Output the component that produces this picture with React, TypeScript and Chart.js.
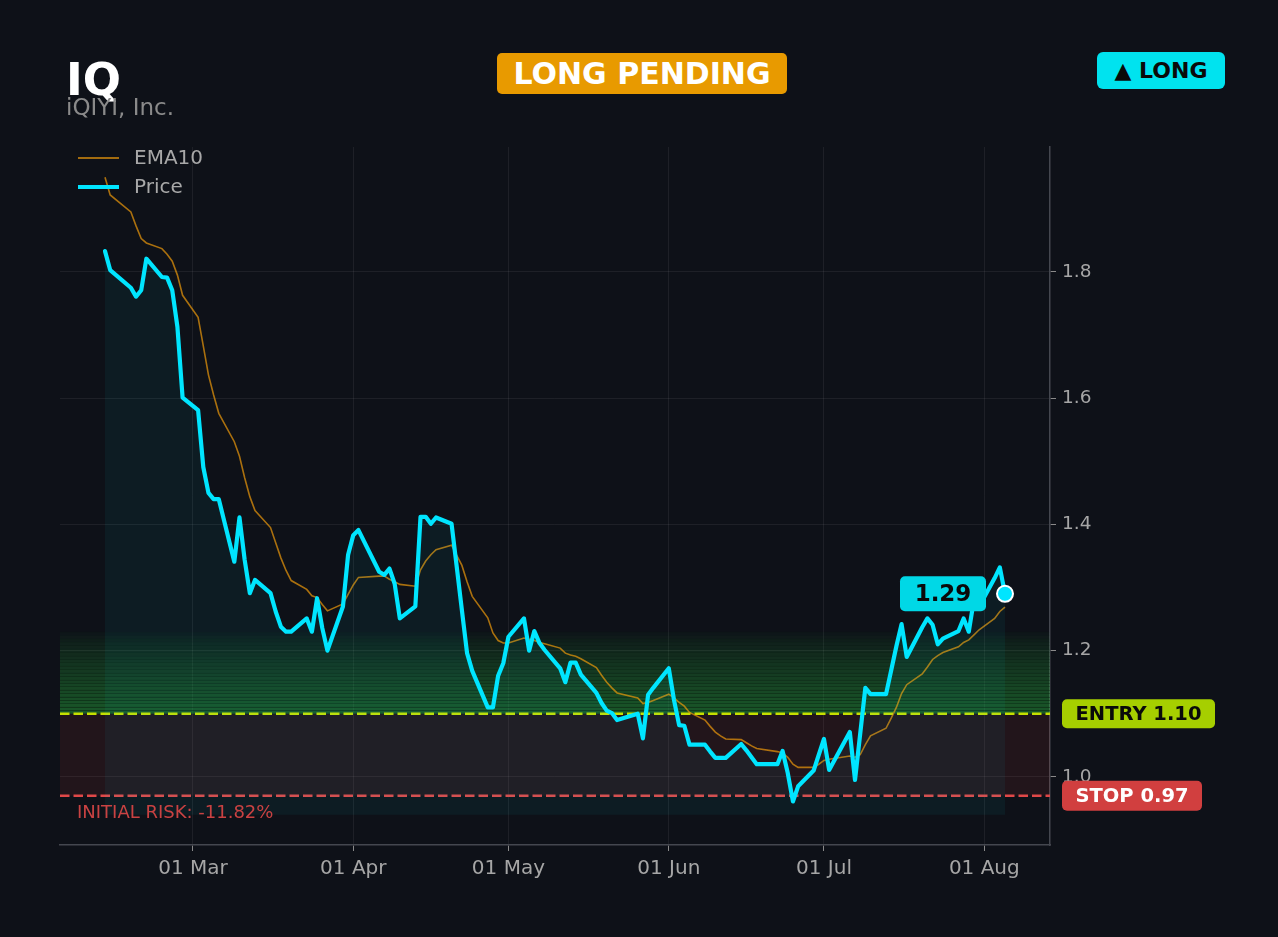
import React, { useEffect, useRef } from "react";
import { Chart, registerables } from "chart.js";

Chart.register(...registerables);

const TICKER = "IQ";
const COMPANY = "iQIYI, Inc.";
const STATUS = "LONG PENDING";
const DIRECTION = "▲ LONG";

const DATES = [
  "2026-02-12", "2026-02-13", "2026-02-17", "2026-02-18", "2026-02-19", "2026-02-20", "2026-02-23", "2026-02-24", "2026-02-25", "2026-02-26", "2026-02-27",
  "2026-03-02", "2026-03-03", "2026-03-04", "2026-03-05", "2026-03-06", "2026-03-09", "2026-03-10", "2026-03-11", "2026-03-12", "2026-03-13",
  "2026-03-16", "2026-03-17", "2026-03-18", "2026-03-19", "2026-03-20", "2026-03-23", "2026-03-24", "2026-03-25", "2026-03-26", "2026-03-27", "2026-03-30", "2026-03-31",
  "2026-04-01", "2026-04-02", "2026-04-06", "2026-04-07", "2026-04-08", "2026-04-09", "2026-04-10", "2026-04-13", "2026-04-14", "2026-04-15", "2026-04-16", "2026-04-17",
  "2026-04-20", "2026-04-21", "2026-04-22", "2026-04-23", "2026-04-24", "2026-04-27", "2026-04-28", "2026-04-29", "2026-04-30",
  "2026-05-01", "2026-05-04", "2026-05-05", "2026-05-06", "2026-05-07", "2026-05-08", "2026-05-11", "2026-05-12", "2026-05-13", "2026-05-14", "2026-05-15",
  "2026-05-18", "2026-05-19", "2026-05-20", "2026-05-21", "2026-05-22", "2026-05-26", "2026-05-27", "2026-05-28", "2026-05-29",
  "2026-06-01", "2026-06-02", "2026-06-03", "2026-06-04", "2026-06-05", "2026-06-08", "2026-06-09", "2026-06-10", "2026-06-11", "2026-06-12",
  "2026-06-15", "2026-06-16", "2026-06-17", "2026-06-18", "2026-06-22", "2026-06-23", "2026-06-24", "2026-06-25", "2026-06-26", "2026-06-29", "2026-06-30",
  "2026-07-01", "2026-07-02", "2026-07-06", "2026-07-07", "2026-07-08", "2026-07-09", "2026-07-10", "2026-07-13", "2026-07-14", "2026-07-15", "2026-07-16", "2026-07-17",
  "2026-07-20", "2026-07-21", "2026-07-22", "2026-07-23", "2026-07-24", "2026-07-27", "2026-07-28", "2026-07-29", "2026-07-30", "2026-07-31",
  "2026-08-03", "2026-08-04", "2026-08-05",
];

const PRICE = [
  1.833, 1.803, 1.775, 1.761, 1.771, 1.821, 1.792, 1.791, 1.771, 1.713, 1.601,
  1.581, 1.491, 1.450, 1.440, 1.440, 1.341, 1.411, 1.344, 1.291, 1.312,
  1.291, 1.262, 1.238, 1.230, 1.230, 1.251, 1.230, 1.283, 1.236, 1.200, 1.270, 1.352,
  1.383, 1.391, 1.325, 1.320, 1.330, 1.306, 1.251, 1.270, 1.412, 1.412, 1.401, 1.411,
  1.401, 1.333, 1.264, 1.196, 1.168, 1.110, 1.110, 1.160, 1.180,
  1.222, 1.251, 1.200, 1.231, 1.212, 1.201, 1.172, 1.150, 1.181, 1.181, 1.162,
  1.133, 1.117, 1.105, 1.101, 1.090, 1.100, 1.061, 1.130, 1.141,
  1.172, 1.122, 1.082, 1.081, 1.051, 1.051, 1.040, 1.030, 1.030, 1.030,
  1.052, 1.042, 1.031, 1.020, 1.020, 1.041, 1.006, 0.961, 0.985, 1.010, 1.035,
  1.060, 1.011, 1.071, 0.995, 1.068, 1.141, 1.131, 1.131, 1.169, 1.207, 1.242, 1.190,
  1.237, 1.251, 1.241, 1.210, 1.219, 1.231, 1.251, 1.230, 1.281, 1.270,
  1.315, 1.332, 1.290,
];

const EMA10 = [
  1.950, 1.922, 1.895, 1.873, 1.853, 1.846, 1.837, 1.828, 1.817, 1.795, 1.763,
  1.728, 1.683, 1.637, 1.605, 1.576, 1.531, 1.508, 1.474, 1.444, 1.422,
  1.395, 1.371, 1.347, 1.327, 1.311, 1.297, 1.287, 1.284, 1.273, 1.263, 1.274, 1.289,
  1.304, 1.316, 1.318, 1.318, 1.313, 1.309, 1.305, 1.302, 1.328, 1.342, 1.352, 1.360,
  1.367, 1.351, 1.335, 1.309, 1.286, 1.252, 1.228, 1.216, 1.212,
  1.212, 1.220, 1.218, 1.216, 1.213, 1.211, 1.204, 1.196, 1.193, 1.191, 1.187,
  1.173, 1.161, 1.150, 1.141, 1.133, 1.125, 1.116, 1.118, 1.121,
  1.131, 1.125, 1.118, 1.112, 1.102, 1.090, 1.080, 1.071, 1.065, 1.060,
  1.059, 1.054, 1.049, 1.045, 1.040, 1.038, 1.031, 1.020, 1.015, 1.015, 1.020,
  1.026, 1.028, 1.033, 1.031, 1.035, 1.051, 1.065, 1.077, 1.093, 1.110, 1.132, 1.146,
  1.163, 1.174, 1.186, 1.192, 1.197, 1.206, 1.213, 1.217, 1.225, 1.233,
  1.251, 1.262, 1.269,
];

const MONTH_TICK_DATES = ["2026-03-01", "2026-04-01", "2026-05-01", "2026-06-01", "2026-07-01", "2026-08-01"];
const MONTH_TICK_LABELS = ["01 Mar", "01 Apr", "01 May", "01 Jun", "01 Jul", "01 Aug"];
const Y_TICKS = [1.0, 1.2, 1.4, 1.6, 1.8];

const ENTRY = 1.1;
const STOP = 0.97;
const GREEN_TOP = 1.23;
const FILL_BASE = 0.94;
const Y_MIN = 0.892;
const Y_MAX = 1.998;
const RISK_TEXT = "INITIAL RISK: -11.82%";
const ENTRY_TEXT = "ENTRY 1.10";
const STOP_TEXT = "STOP 0.97";

const BG = "#0e1118";
const CYAN = "#00e5ff";
const FONT = "'DejaVu Sans', sans-serif";

const dayNum = (s: string) => {
  const [y, m, d] = s.split("-").map(Number);
  return Date.UTC(y, m - 1, d) / 86400000;
};

export default function App() {
  const ref = useRef<HTMLCanvasElement | null>(null);

  useEffect(() => {
    document.body.style.margin = "0";
    const canvas = ref.current;
    if (!canvas) return;
    const xs = DATES.map(dayNum);
    const monthXs = MONTH_TICK_DATES.map(dayNum);
    const span = xs[xs.length - 1] - xs[0];
    const xMin = xs[0] - span * 0.05;
    const xMax = xs[xs.length - 1] + span * 0.05;
    const last = xs.length - 1;

    const zones = {
      id: "zones",
      beforeDatasetsDraw(chart: any) {
        const { ctx, chartArea: a } = chart;
        const y = chart.scales.y;
        const w = a.right - a.left;
        ctx.save();
        ctx.beginPath();
        ctx.rect(a.left, a.top, w, a.bottom - a.top);
        ctx.clip();
        const yE = y.getPixelForValue(ENTRY);
        const yS = y.getPixelForValue(STOP);
        ctx.fillStyle = "rgba(239,68,68,0.09)";
        ctx.fillRect(a.left, yE, w, yS - yE);
        const n = 24;
        for (let i = 0; i < n; i++) {
          const v0 = ENTRY + ((GREEN_TOP - ENTRY) * i) / n;
          const v1 = ENTRY + ((GREEN_TOP - ENTRY) * (i + 1)) / n;
          const p0 = y.getPixelForValue(v0);
          const p1 = y.getPixelForValue(v1);
          const t = 1 - i / n;
          ctx.fillStyle = `rgba(40,170,60,${0.46 * Math.pow(t, 0.8)})`;
          ctx.fillRect(a.left, p1, w, p0 - p1);
          ctx.fillStyle = `rgba(4,10,6,${0.4 * t})`;
          ctx.fillRect(a.left, Math.round(p1), w, 1);
        }
        ctx.lineWidth = 2.5;
        ctx.setLineDash([9.5, 4]);
        ctx.strokeStyle = "#c6e000";
        ctx.beginPath();
        ctx.moveTo(a.left, yE);
        ctx.lineTo(a.right, yE);
        ctx.stroke();
        ctx.strokeStyle = "#e04848";
        ctx.beginPath();
        ctx.moveTo(a.left, yS);
        ctx.lineTo(a.right, yS);
        ctx.stroke();
        ctx.restore();
      },
    };

    const overlay = {
      id: "overlay",
      afterDraw(chart: any) {
        const { ctx, chartArea: a } = chart;
        const y = chart.scales.y;
        const x = chart.scales.x;
        const yE = y.getPixelForValue(ENTRY);
        const yS = y.getPixelForValue(STOP);
        ctx.save();
        // legend
        ctx.lineCap = "butt";
        ctx.strokeStyle = "rgba(245,158,11,0.65)";
        ctx.lineWidth = 2;
        ctx.beginPath();
        ctx.moveTo(a.left + 18, a.top + 11);
        ctx.lineTo(a.left + 59, a.top + 11);
        ctx.stroke();
        ctx.strokeStyle = CYAN;
        ctx.lineWidth = 4;
        ctx.beginPath();
        ctx.moveTo(a.left + 18, a.top + 40);
        ctx.lineTo(a.left + 59, a.top + 40);
        ctx.stroke();
        ctx.fillStyle = "#a8a8a8";
        ctx.font = `20px ${FONT}`;
        ctx.textBaseline = "middle";
        ctx.textAlign = "left";
        ctx.fillText("EMA10", a.left + 74, a.top + 12);
        ctx.fillText("Price", a.left + 74, a.top + 41);

        // risk text
        ctx.fillStyle = "#c94242";
        ctx.font = `18px ${FONT}`;
        ctx.fillText(RISK_TEXT, a.left + 17, yS + 18);

        // right labels
        const box = (bx: number, cy: number, bw: number, bh: number, fill: string, text: string, color: string, size: number) => {
          ctx.fillStyle = fill;
          ctx.beginPath();
          ctx.roundRect(bx, cy - bh / 2, bw, bh, 5);
          ctx.fill();
          ctx.fillStyle = color;
          ctx.font = `bold ${size}px ${FONT}`;
          ctx.textAlign = "center";
          ctx.textBaseline = "middle";
          ctx.fillText(text, bx + bw / 2, cy + 1);
        };
        box(a.right + 12, yE, 153, 29, "#a6cf00", ENTRY_TEXT, "#0a0a0a", 19.5);
        box(a.right + 12, yS, 140, 30, "#d13f3f", STOP_TEXT, "#ffffff", 19.5);

        // last price label
        const lx = x.getPixelForValue(xs[last]);
        const ly = y.getPixelForValue(PRICE[last]);
        box(lx - 105, ly, 86, 35, "#00d8e6", PRICE[last].toFixed(2), "#0a0a0a", 23);
        ctx.restore();
      },
    };

    const chart = new Chart(canvas, {
      type: "line",
      data: {
        datasets: [
          {
            label: "Last",
            data: [{ x: xs[last], y: PRICE[last] }],
            order: 0,
            showLine: false,
            pointRadius: 8,
            pointBackgroundColor: CYAN,
            pointBorderColor: "#ffffff",
            pointBorderWidth: 2,
          },
          {
            label: "Price",
            data: xs.map((v, i) => ({ x: v, y: PRICE[i] })),
            order: 1,
            borderColor: CYAN,
            borderWidth: 4.2,
            pointRadius: 0,
            tension: 0,
            borderJoinStyle: "round",
            borderCapStyle: "round",
            fill: { value: FILL_BASE },
            backgroundColor: "rgba(0,229,255,0.05)",
          },
          {
            label: "EMA10",
            data: xs.map((v, i) => ({ x: v, y: EMA10[i] })),
            order: 2,
            borderColor: "rgba(245,158,11,0.68)",
            borderWidth: 1.6,
            pointRadius: 0,
            tension: 0,
            fill: false,
          },
        ],
      } as any,
      options: {
        animation: false,
        responsive: false,
        devicePixelRatio: 1,
        layout: { padding: { left: 60, top: 147, right: 0, bottom: 0 } },
        plugins: { legend: { display: false }, tooltip: { enabled: false } },
        scales: {
          x: {
            type: "linear",
            min: xMin,
            max: xMax,
            afterBuildTicks: (s: any) => {
              s.ticks = monthXs.map((v) => ({ value: v }));
            },
            afterFit: (s: any) => {
              s.height = 92;
            },
            ticks: {
              autoSkip: false,
              maxRotation: 0,
              padding: 6,
              color: "#a6a6a6",
              font: { family: "DejaVu Sans", size: 20 },
              callback: (v: any) => {
                const i = monthXs.findIndex((m) => Math.abs(m - Number(v)) < 0.01);
                return i >= 0 ? MONTH_TICK_LABELS[i] : "";
              },
            },
            grid: { color: "rgba(255,255,255,0.065)", tickColor: "#8a8a8a", tickLength: 6, lineWidth: 1 },
            border: { color: "#44474f", width: 1.5 },
          },
          y: {
            type: "linear",
            position: "right",
            min: Y_MIN,
            max: Y_MAX,
            afterBuildTicks: (s: any) => {
              s.ticks = Y_TICKS.map((v) => ({ value: v }));
            },
            afterFit: (s: any) => {
              s.width = 228;
            },
            ticks: {
              padding: 6,
              color: "#a6a6a6",
              font: { family: "DejaVu Sans", size: 18.5 },
              callback: (v: any) => Number(v).toFixed(1),
            },
            grid: { color: "rgba(255,255,255,0.065)", tickColor: "#8a8a8a", tickLength: 6, lineWidth: 1 },
            border: { color: "#44474f", width: 1.5 },
          },
        },
      } as any,
      plugins: [zones, overlay],
    });
    return () => chart.destroy();
  }, []);

  const badge: React.CSSProperties = {
    position: "absolute",
    display: "flex",
    alignItems: "center",
    justifyContent: "center",
    fontFamily: FONT,
    fontWeight: "bold",
    whiteSpace: "nowrap",
  };

  return (
    <div
      style={{
        position: "fixed",
        left: 0,
        top: 0,
        width: 1278,
        height: 937,
        background: BG,
        overflow: "hidden",
        fontFamily: FONT,
      }}
    >
      <canvas ref={ref} width={1278} height={937} style={{ position: "absolute", left: 0, top: 0, width: 1278, height: 937 }} />
      <div style={{ position: "absolute", left: 66, top: 57, fontSize: 45, lineHeight: "45px", fontWeight: "bold", color: "#ffffff" }}>
        {TICKER}
      </div>
      <div style={{ position: "absolute", left: 66, top: 96, fontSize: 23, lineHeight: "23px", color: "#8a8a8a" }}>{COMPANY}</div>
      <div style={{ ...badge, left: 497, top: 53, width: 290, height: 41, background: "#e89a00", borderRadius: 5, color: "#ffffff", fontSize: 30 }}>
        {STATUS}
      </div>
      <div style={{ ...badge, left: 1097, top: 52, width: 128, height: 37, background: "#00e3ef", borderRadius: 6, color: "#0a0a0a", fontSize: 22 }}>
        {DIRECTION}
      </div>
    </div>
  );
}
